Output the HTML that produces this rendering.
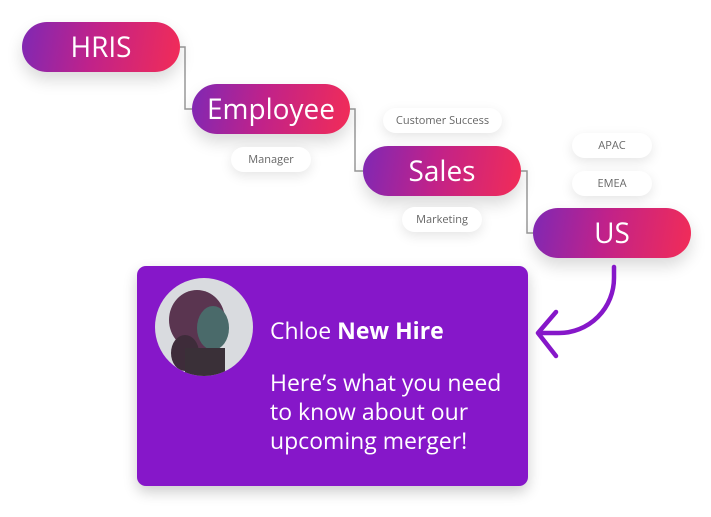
<!DOCTYPE html>
<html><head><meta charset="utf-8"><style>
body{margin:0;width:711px;height:517px;background:#fff;position:relative;overflow:hidden;font-family:"Open Sans","Liberation Sans",sans-serif}
.p{position:absolute;width:158px;height:50px;border-radius:25px;background:linear-gradient(100deg,#7f28b4 0%,#c0228a 45%,#f22c57 100%);color:#fff;font-size:28px;text-align:center;line-height:50px;box-shadow:0 8px 16px rgba(0,0,0,.15)}
.s{position:absolute;height:25px;border-radius:13px;background:#fff;color:#666;font-size:11px;line-height:25px;text-align:center;box-shadow:0 4px 12px rgba(0,0,0,.1)}
.card{position:absolute;left:137px;top:266px;width:391px;height:220px;background:#8617c9;border-radius:9px;box-shadow:0 6px 14px rgba(0,0,0,.2);color:#fff}
</style></head><body>
<svg width="711" height="517" style="position:absolute;left:0;top:0">
<path d="M180 47H185V109H192M350 109H355V171H363M521 171H527V233H533" fill="none" stroke="#999" stroke-width="1.5"/>
</svg>
<div class="p" style="left:22px;top:22px">HRIS</div>
<div class="p" style="left:192px;top:84px">Employee</div>
<div class="p" style="left:363px;top:146px">Sales</div>
<div class="p" style="left:533px;top:208px">US</div>
<div class="s" style="left:231px;top:147px;width:80px">Manager</div>
<div class="s" style="left:383px;top:108px;width:119px">Customer Success</div>
<div class="s" style="left:402px;top:207px;width:80px">Marketing</div>
<div class="s" style="left:572px;top:133px;width:80px">APAC</div>
<div class="s" style="left:572px;top:171px;width:80px">EMEA</div>
<div class="card">
<svg style="position:absolute;left:18px;top:12px" width="98" height="98">
<defs><clipPath id="c"><circle cx="49" cy="49" r="49"/></clipPath></defs>
<g clip-path="url(#c)">
<rect width="98" height="98" fill="#d9dbdf"/>
<ellipse cx="42" cy="42" rx="28" ry="30" fill="#5a3550"/>
<ellipse cx="58" cy="50" rx="16" ry="22" fill="#4a6a6a"/>
<ellipse cx="30" cy="75" rx="14" ry="18" fill="#3e2c3a"/>
<rect x="30" y="70" width="40" height="30" fill="#3a3038"/>
</g></svg>
<div style="position:absolute;left:133px;top:48px;font-size:23px">Chloe <b>New Hire</b></div>
<div style="position:absolute;left:133px;top:102px;font-size:23px;line-height:29px;width:250px">Here’s what you need to know about our upcoming merger!</div>
</div>
<svg width="711" height="517" style="position:absolute;left:0;top:0">
<path d="M614 267V278A55 55 0 0 1 559 333H542" fill="none" stroke="#8617c9" stroke-width="4.5" stroke-linecap="round"/>
<path d="M556 312L538 333L556 356" fill="none" stroke="#8617c9" stroke-width="4.5" stroke-linecap="round" stroke-linejoin="round"/>
</svg>
</body></html>
